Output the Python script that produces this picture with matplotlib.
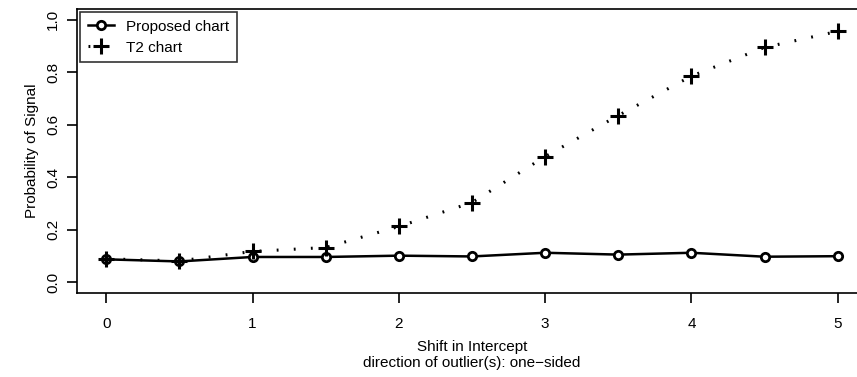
import matplotlib.pyplot as plt
import numpy as np

plt.rcParams['font.family'] = ['Liberation Sans', 'DejaVu Sans']

# shift values and signal probabilities
shift = [0, 0.5, 1, 1.5, 2, 2.5, 3, 3.5, 4, 4.5, 5]
proposed = [0.088, 0.080, 0.097, 0.097, 0.102, 0.099, 0.113, 0.106, 0.113, 0.098, 0.100]
t2 = [0.090, 0.082, 0.118, 0.133, 0.213, 0.304, 0.479, 0.635, 0.785, 0.894, 0.955]

xticks = [0, 1, 2, 3, 4, 5]
yticks = [0.0, 0.2, 0.4, 0.6, 0.8, 1.0]

fig = plt.figure(figsize=(8.57, 3.77), dpi=100)
ax = fig.add_axes([77 / 857, 1 - 293 / 377, 790 / 857, 284 / 377])

ax.plot(shift, proposed, color='k', lw=1.8, marker='o', ms=6, mfc='white',
        mew=2, label='Proposed chart')
ax.plot(shift, t2, color='k', lw=2.2, linestyle=(0, (0.6, 5)), marker='+', ms=11,
        mew=2.2, label='T2 chart')

ax.set_xlim(-0.2, 5.2)
ax.set_ylim(-0.04, 1.04)
ax.set_xticks(xticks)
ax.set_xticklabels([str(v) for v in xticks])
ax.set_yticks(yticks)
ax.set_yticklabels(['%.1f' % v for v in yticks], rotation=90, va='center')
ax.tick_params(direction='out', length=7, width=1.2, labelsize=11, pad=10)
ax.tick_params(axis='y', pad=5)

for s in ax.spines.values():
    s.set_linewidth(1.2)

ax.set_xlabel('Shift in Intercept\ndirection of outlier(s): one\u2212sided',
              fontsize=11, labelpad=7, linespacing=1.15)
ax.set_ylabel('Probability of Signal', fontsize=11, labelpad=5)

leg = ax.legend(loc='upper left', fontsize=11, frameon=True, fancybox=False,
                borderaxespad=0.2, handlelength=1.7, borderpad=0.5,
                labelspacing=0.45, handletextpad=0.8)
leg.get_frame().set_edgecolor('k')
leg.get_frame().set_linewidth(1.2)

fig.savefig('out.png', dpi=100)
